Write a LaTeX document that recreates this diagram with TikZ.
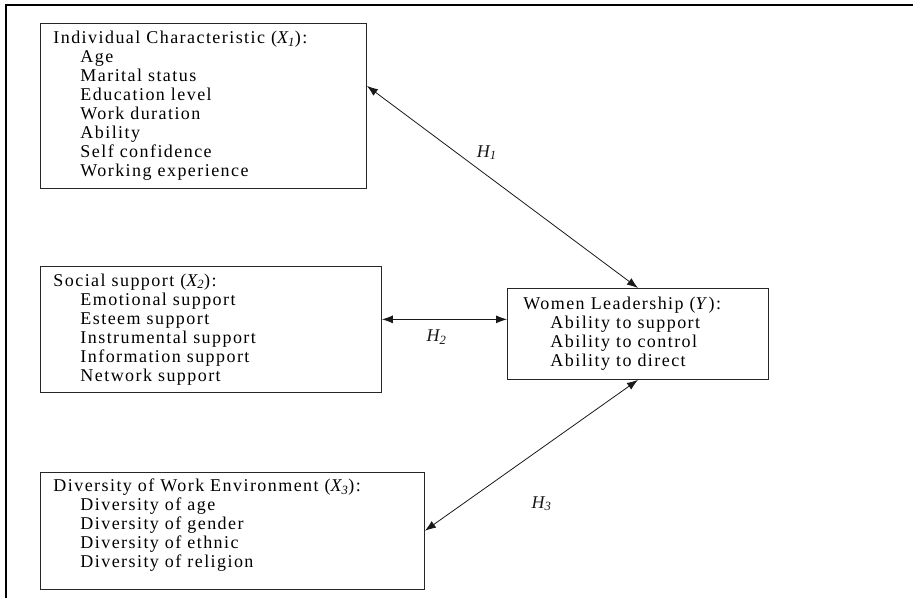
\documentclass[tikz,border=0pt]{standalone}
\usepackage{fontspec}
\setmainfont{Liberation Serif}
\newfontfamily\boxfont{Liberation Serif}[LetterSpace=8]
\usetikzlibrary{arrows.meta,positioning,calc}

\newcommand{\ind}{\hspace*{27pt}}
\newcommand{\vname}[2]{\textit{#1\textsubscript{#2}}}

\begin{document}
\begin{tikzpicture}[x=1pt, y=-1pt,
  varbox/.style={draw=black!85, line width=0.9pt, anchor=north west, inner xsep=13pt, inner ysep=0pt, align=left, font=\boxfont\fontsize{18}{19}\selectfont},
  hyp/.style={{Latex[length=11pt,width=8pt]}-{Latex[length=11pt,width=8pt]}, line width=0.8pt, black!90},
  hlabel/.style={inner sep=0pt, font=\boxfont\fontsize{18}{19}\selectfont}]

  \useasboundingbox (0,0) rectangle (913,598);

  % frame
  \draw[line width=2.5pt] (913,5) -- (6,5) -- (6,598);

  % X1
  \node[varbox, minimum width=326pt, minimum height=165pt, text width=300pt] (x1) at (40,23)
    {Individual Characteristic (\vname{X}{1}):\\ \ind Age\\ \ind Marital status\\ \ind Education level\\
     \ind Work duration\\ \ind Ability\\ \ind Self confidence\\ \ind Working experience};

  % X2
  \node[varbox, minimum width=341pt, minimum height=126pt, text width=315pt, below=77pt of x1.south west, anchor=north west] (x2)
    {Social support (\vname{X}{2}):\\ \ind Emotional support\\ \ind Esteem support\\ \ind Instrumental support\\
     \ind Information support\\ \ind Network support};

  % X3
  \node[varbox, minimum width=384pt, minimum height=117pt, text width=358pt, below=79pt of x2.south west, anchor=north west] (x3)
    {Diversity of Work Environment (\vname{X}{3}):\\ \ind Diversity of age\\ \ind Diversity of gender\\
     \ind Diversity of ethnic\\ \ind Diversity of religion\par\kern11pt};

  % Y
  \node[varbox, inner xsep=16pt, minimum width=261pt, minimum height=91pt, text width=229pt] (ylead) at (507,288)
    {Women Leadership (\textit{Y}):\\ \ind Ability to support\\ \ind Ability to control\\ \ind Ability to direct};

  % hypotheses
  \coordinate (h2a) at ($(x2.east)+(0,-10)$);

  \draw[hyp] (x1.7) -- (ylead.north) node[hlabel, pos=0.33, right=20pt] (h1) {\vname{H}{1}};
  \draw[hyp] (h2a) -- (h2a -| ylead.west) node[hlabel, midway, below=10pt, xshift=-8pt] (h2) {\vname{H}{2}};
  \draw[hyp] (ylead.south) -- (x3.east) node[hlabel, pos=0.82, right=68pt] (h3) {\vname{H}{3}};

\end{tikzpicture}
\end{document}
